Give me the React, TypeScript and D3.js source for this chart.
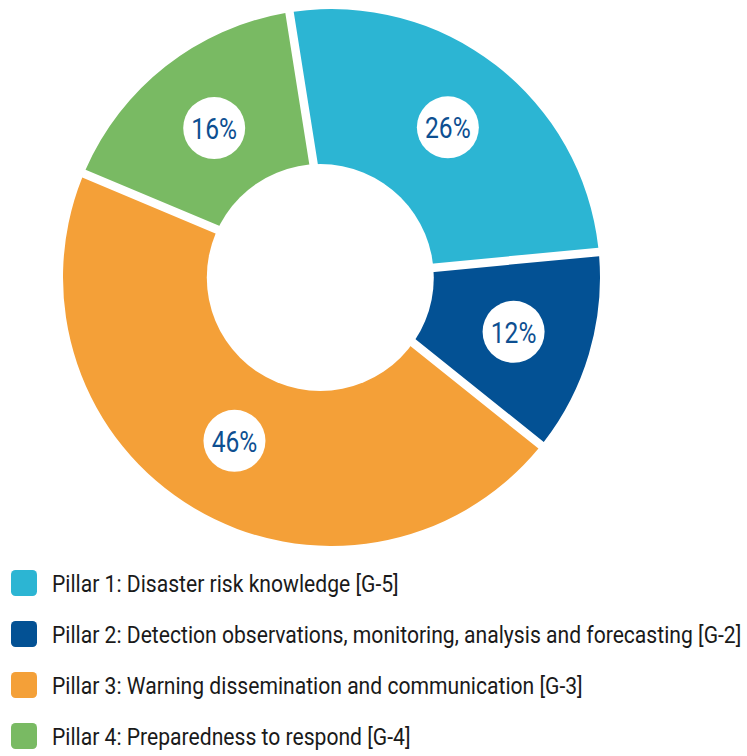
import React from "react";
import * as d3 from "d3";

const categories = [
  "Pillar 1: Disaster risk knowledge [G-5]",
  "Pillar 2: Detection observations, monitoring, analysis and forecasting [G-2]",
  "Pillar 3: Warning dissemination and communication [G-3]",
  "Pillar 4: Preparedness to respond [G-4]",
];
const shares = [26, 12, 46, 16];
const colors = ["#2cb5d3", "#035194", "#f4a038", "#79ba63"];

const W = 747;
const H = 756;
const cx = 331.5;
const cy = 277.5;
const R = 268.5;
const holeCx = 320.3;
const holeR = 113.5;
const start = (-9 * Math.PI) / 180;

export default function App() {
  const pie = d3
    .pie<number>()
    .value((d) => d)
    .sort(null)
    .startAngle(start)
    .endAngle(start + 2 * Math.PI)
    .padAngle(8.5 / R);
  const arcs = pie(shares);
  const arc = d3
    .arc<d3.PieArcDatum<number>>()
    .innerRadius(90)
    .outerRadius(R)
    .padRadius(R);
  const labelArc = d3
    .arc<d3.PieArcDatum<number>>()
    .innerRadius(190)
    .outerRadius(190);

  const legendY = d3
    .scalePoint<number>()
    .domain(categories.map((_, i) => i))
    .range([583, 736]);

  return (
    <svg
      width={W}
      height={H}
      style={{ position: "absolute", left: 0, top: 0, background: "#fff" }}
      fontFamily="Roboto, sans-serif"
    >
      <g transform={`translate(${cx},${cy})`}>
        {arcs.map((a, i) => (
          <path key={i} d={arc(a) || ""} fill={colors[i]} />
        ))}
      </g>
      <circle cx={holeCx} cy={cy} r={holeR} fill="#fff" />
      <g transform={`translate(${cx},${cy})`}>
        {arcs.map((a, i) => {
          const [x, y] = labelArc.centroid(a);
          return (
            <g key={i} transform={`translate(${x},${y})`}>
              <circle r={31} fill="#fff" />
              <text
                transform="scale(0.82,1)"
                textAnchor="middle"
                dy="0.36em"
                fontSize={30}
                fill="#0d4f91"
              >
                {shares[i]}%
              </text>
            </g>
          );
        })}
      </g>
      {categories.map((c, i) => {
        const y = legendY(i) as number;
        return (
          <g key={i}>
            <rect x={11} y={y - 13} width={26} height={26} rx={4.5} fill={colors[i]} />
            <text
              transform={`translate(52,${y + 9}) scale(0.88,1)`}
              fontSize={24}
              fill="#1a1a1a"
            >
              {c}
            </text>
          </g>
        );
      })}
    </svg>
  );
}
